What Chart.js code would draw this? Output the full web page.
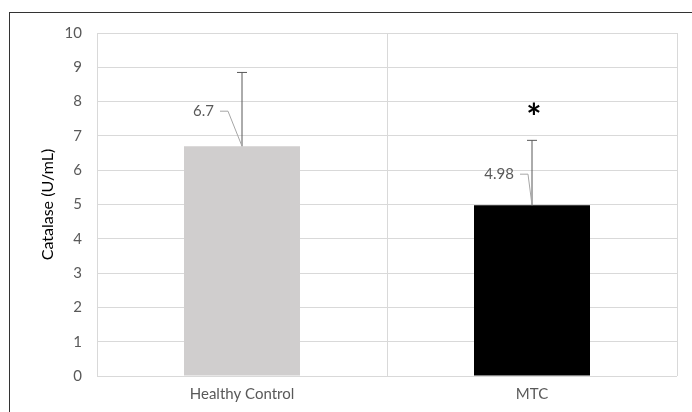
<!DOCTYPE html>
<html>
<head>
<meta charset="utf-8">
<script src="https://cdn.jsdelivr.net/npm/chart.js@4.4.0/dist/chart.umd.min.js"></script>
<style>
  html, body { margin: 0; padding: 0; background: #fff; overflow: hidden; }
  #wrap { position: relative; width: 692px; height: 412px; }
  #frame { position: absolute; left: 9px; top: 12px; width: 800px; height: 500px; border: 1.5px solid #333; box-sizing: border-box; }
  canvas { position: absolute; left: 0; top: 0; }
</style>
</head>
<body>
<div id="wrap">
  <div id="frame"></div>
  <canvas id="chart" width="692" height="412"></canvas>
</div>
<script>
// Catalase levels per group
const categories = ['Healthy Control', 'MTC'];
const means = [6.7, 4.98];
const errorTops = [8.85, 6.87];
const valueLabels = ['6.7', '4.98'];
const significant = [false, true];
const yTicks = [0, 1, 2, 3, 4, 5, 6, 7, 8, 9, 10];

const FONT = 'Lato, "Open Sans", sans-serif';

// error bars, value labels with leader lines, significance star
const extras = {
    id: 'extras',
    afterDatasetsDraw(chart) {
        const ctx = chart.ctx;
        const x = chart.scales.x, y = chart.scales.y;
        // label offsets from the bar top (dx to label right edge, dy to label middle)
        const offs = [[-28, -35], [-18, -31]];
        ctx.save();
        categories.forEach(function(c, i) {
            const cx = x.getPixelForValue(i);
            const yb = y.getPixelForValue(means[i]);
            const ye = y.getPixelForValue(errorTops[i]);
            // error bar
            ctx.strokeStyle = '#595959';
            ctx.lineWidth = 1;
            ctx.beginPath();
            ctx.moveTo(cx, yb);
            ctx.lineTo(cx, ye);
            ctx.moveTo(cx - 5, ye);
            ctx.lineTo(cx + 5, ye);
            ctx.stroke();
            // value label
            const lx = cx + offs[i][0], ly = yb + offs[i][1];
            ctx.font = '15px ' + FONT;
            ctx.fillStyle = '#595959';
            ctx.textAlign = 'right';
            ctx.textBaseline = 'middle';
            ctx.fillText(valueLabels[i], lx, ly);
            ctx.strokeStyle = '#a6a6a6';
            ctx.beginPath();
            ctx.moveTo(lx + 6, ly);
            ctx.lineTo(lx + 14, ly);
            ctx.lineTo(cx, yb);
            ctx.stroke();
            // star
            if (significant[i]) {
                ctx.font = 'bold 36px ' + FONT;
                ctx.fillStyle = '#000';
                ctx.textAlign = 'center';
                ctx.textBaseline = 'middle';
                ctx.fillText('*', cx + 2, ye - 22);
            }
        });
        ctx.restore();
    }
};

new Chart(document.getElementById('chart').getContext('2d'), {
    type: 'bar',
    data: {
        labels: categories,
        datasets: [{
            data: means,
            backgroundColor: ['#d0cece', '#000000'],
            barPercentage: 0.4,
            categoryPercentage: 1
        }]
    },
    options: {
        responsive: false,
        animation: false,
        layout: { padding: { left: 38, right: 15, top: 33, bottom: 0 } },
        plugins: { legend: { display: false }, tooltip: { enabled: false } },
        scales: {
            x: {
                grid: { color: '#d9d9d9', drawTicks: false, offset: true },
                border: { display: false },
                ticks: { color: '#595959', font: { family: FONT, size: 15 }, padding: 9 },
                afterFit: function(s) { s.height = 36; }
            },
            y: {
                min: 0,
                max: 10,
                afterBuildTicks: function(s) { s.ticks = yTicks.map(v => ({ value: v })); },
                grid: { color: '#d9d9d9', drawTicks: false },
                border: { display: false },
                ticks: { color: '#595959', font: { family: FONT, size: 15 }, padding: 15 },
                title: { display: true, text: 'Catalase (U/mL)', color: '#000', font: { family: FONT, size: 16 }, padding: 0 },
                afterFit: function(s) { s.width = 59; }
            }
        }
    },
    plugins: [extras]
});
</script>
</body>
</html>
